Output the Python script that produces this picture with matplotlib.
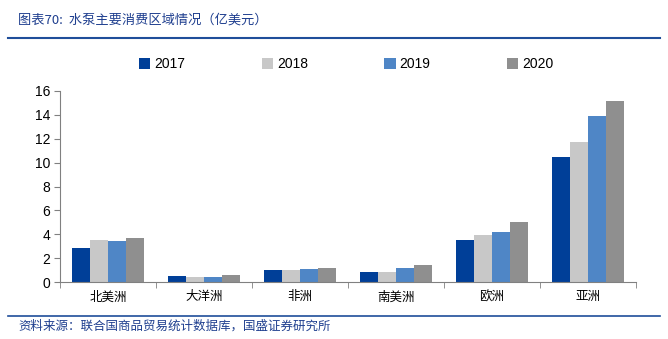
import numpy as np
import matplotlib.pyplot as plt
from matplotlib.lines import Line2D

plt.rcParams['font.family'] = ['Liberation Sans', 'Noto Sans CJK SC', 'DejaVu Sans']

# Data
regions = ["北美洲", "大洋洲", "非洲", "南美洲", "欧洲", "亚洲"]
years = ["2017", "2018", "2019", "2020"]
v2017 = [2.87, 0.48, 1.0, 0.86, 3.49, 10.5]
v2018 = [3.49, 0.42, 1.0, 0.81, 3.94, 11.73]
v2019 = [3.40, 0.42, 1.1, 1.20, 4.22, 13.93]
v2020 = [3.71, 0.59, 1.2, 1.40, 5.00, 15.13]
series = [v2017, v2018, v2019, v2020]
colors = ["#003F98", "#C8C8C8", "#4F86C6", "#8F8F8F"]

fig = plt.figure(figsize=(6.68, 3.39), dpi=100)
ax = fig.add_axes([60 / 668, 1 - 282 / 339, 576 / 668, 191 / 339])

x = np.arange(len(regions))
w = 0.1875
for i, (vals, c) in enumerate(zip(series, colors)):
    ax.bar(x + (i - 1.5) * w, vals, width=w, color=c, label=years[i], zorder=2)

ax.set_xlim(-0.5, len(regions) - 0.5)
ax.set_ylim(0, 16)
ax.set_yticks(range(0, 17, 2))
ax.tick_params(axis='y', labelsize=10, length=4, color="#808080", pad=3)
ax.set_xticks(x)
ax.set_xticklabels(regions, fontsize=9, family=['Noto Sans CJK SC'])
ax.tick_params(axis='x', length=0, pad=6)
ax.set_xticks(np.arange(-0.5, len(regions)), minor=True)
ax.tick_params(axis='x', which='minor', length=4, color="#808080")

for s in ["top", "right"]:
    ax.spines[s].set_visible(False)
for s in ["left", "bottom"]:
    ax.spines[s].set_color("#808080")

ax.legend(loc="center", bbox_to_anchor=(0.497, 1.14), ncol=4, frameon=False,
          fontsize=10, handlelength=0.8, handleheight=0.8, handletextpad=0.3,
          columnspacing=5.5)

# Header and footer
title_color = "#1F3F8F"
fig.text(18 / 668, 1 - 20 / 339, "图表70:  水泵主要消费区域情况（亿美元）", fontsize=9.5,
         color=title_color, va="center", ha="left",
         family=['Noto Sans CJK SC', 'DejaVu Sans'])
fig.add_artist(Line2D([8 / 668, 660 / 668], [1 - 37.5 / 339] * 2, color="#1F4E9A", lw=1.5))
fig.add_artist(Line2D([8 / 668, 660 / 668], [1 - 316 / 339] * 2, color="#1F4E9A", lw=1.2))
fig.text(18 / 668, 1 - 326 / 339, "资料来源：联合国商品贸易统计数据库，国盛证券研究所", fontsize=9,
         color=title_color, va="center", ha="left",
         family=['Noto Sans CJK SC', 'DejaVu Sans'])

fig.savefig("out.png", dpi=100)
